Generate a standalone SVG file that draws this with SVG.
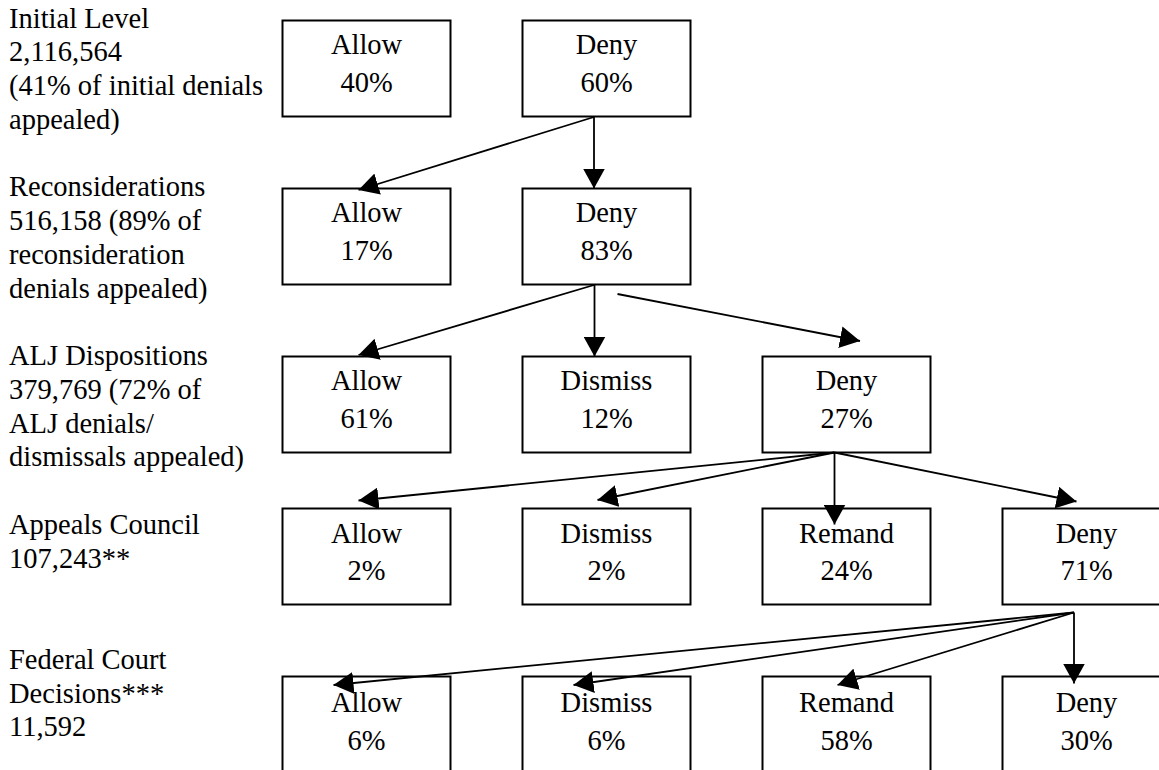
<svg xmlns="http://www.w3.org/2000/svg" width="1159" height="770" viewBox="0 0 1159 770">
<style>
  .box { fill: #fff; stroke: #000; stroke-width: 2; }
  .bt { font-family: "Liberation Serif", "Times New Roman", serif; font-size: 28.5px; fill: #000; text-anchor: middle; }
  .lbl { font-family: "Liberation Serif", "Times New Roman", serif; font-size: 28.5px; fill: #000; }
  .con line { stroke: #000; stroke-width: 1.8; marker-end: url(#ah); }
</style>
<defs>
  <marker id="ah" viewBox="0 0 20 22" refX="20" refY="11" markerWidth="20" markerHeight="22" orient="auto" markerUnits="userSpaceOnUse">
    <path d="M0,0 L20,11 L0,22 z" fill="#000"/>
  </marker>
</defs>
<rect width="1159" height="770" fill="#fff"/>

<g id="labels">
  <text class="lbl" x="9" y="27.5">Initial Level</text>
  <text class="lbl" x="9" y="61.25">2,116,564</text>
  <text class="lbl" x="9" y="95">(41% of initial denials</text>
  <text class="lbl" x="9" y="128.75">appealed)</text>
  <text class="lbl" x="9" y="196.25">Reconsiderations</text>
  <text class="lbl" x="9" y="230">516,158 (89% of</text>
  <text class="lbl" x="9" y="263.75">reconsideration</text>
  <text class="lbl" x="9" y="297.5">denials appealed)</text>
  <text class="lbl" x="9" y="365">ALJ Dispositions</text>
  <text class="lbl" x="9" y="398.75">379,769 (72% of</text>
  <text class="lbl" x="9" y="432.5">ALJ denials/</text>
  <text class="lbl" x="9" y="466.25">dismissals appealed)</text>
  <text class="lbl" x="9" y="533.75">Appeals Council</text>
  <text class="lbl" x="9" y="567.5">107,243**</text>
  <text class="lbl" x="9" y="668.75">Federal Court</text>
  <text class="lbl" x="9" y="702.5">Decisions***</text>
  <text class="lbl" x="9" y="736.25">11,592</text>
</g>

<g id="r1-allow"><rect class="box" x="282.5" y="20.5" width="168" height="96"/><text class="bt" x="366.5" y="54">Allow</text><text class="bt" x="366.5" y="91.5">40%</text></g>
<g id="r1-deny"><rect class="box" x="522.5" y="20.5" width="168" height="96"/><text class="bt" x="606.5" y="54">Deny</text><text class="bt" x="606.5" y="91.5">60%</text></g>

<g id="r2-allow"><rect class="box" x="282.5" y="188.5" width="168" height="96"/><text class="bt" x="366.5" y="222">Allow</text><text class="bt" x="366.5" y="259.5">17%</text></g>
<g id="r2-deny"><rect class="box" x="522.5" y="188.5" width="168" height="96"/><text class="bt" x="606.5" y="222">Deny</text><text class="bt" x="606.5" y="259.5">83%</text></g>

<g id="r3-allow"><rect class="box" x="282.5" y="356.5" width="168" height="96"/><text class="bt" x="366.5" y="390">Allow</text><text class="bt" x="366.5" y="427.5">61%</text></g>
<g id="r3-dismiss"><rect class="box" x="522.5" y="356.5" width="168" height="96"/><text class="bt" x="606.5" y="390">Dismiss</text><text class="bt" x="606.5" y="427.5">12%</text></g>
<g id="r3-deny"><rect class="box" x="762.5" y="356.5" width="168" height="96"/><text class="bt" x="846.5" y="390">Deny</text><text class="bt" x="846.5" y="427.5">27%</text></g>

<g id="r4-allow"><rect class="box" x="282.5" y="508.5" width="168" height="96"/><text class="bt" x="366.5" y="543">Allow</text><text class="bt" x="366.5" y="579.5">2%</text></g>
<g id="r4-dismiss"><rect class="box" x="522.5" y="508.5" width="168" height="96"/><text class="bt" x="606.5" y="543">Dismiss</text><text class="bt" x="606.5" y="579.5">2%</text></g>
<g id="r4-remand"><rect class="box" x="762.5" y="508.5" width="168" height="96"/><text class="bt" x="846.5" y="543">Remand</text><text class="bt" x="846.5" y="579.5">24%</text></g>
<g id="r4-deny"><rect class="box" x="1002.5" y="508.5" width="168" height="96"/><text class="bt" x="1086.5" y="543">Deny</text><text class="bt" x="1086.5" y="579.5">71%</text></g>

<g id="r5-allow"><rect class="box" x="282.5" y="676.5" width="168" height="100"/><text class="bt" x="366.5" y="711.5">Allow</text><text class="bt" x="366.5" y="749.5">6%</text></g>
<g id="r5-dismiss"><rect class="box" x="522.5" y="676.5" width="168" height="100"/><text class="bt" x="606.5" y="711.5">Dismiss</text><text class="bt" x="606.5" y="749.5">6%</text></g>
<g id="r5-remand"><rect class="box" x="762.5" y="676.5" width="168" height="100"/><text class="bt" x="846.5" y="711.5">Remand</text><text class="bt" x="846.5" y="749.5">58%</text></g>
<g id="r5-deny"><rect class="box" x="1002.5" y="676.5" width="168" height="100"/><text class="bt" x="1086.5" y="711.5">Deny</text><text class="bt" x="1086.5" y="749.5">30%</text></g>

<g id="connectors" class="con">
  <line x1="594" y1="117" x2="358.5" y2="190"/>
  <line x1="594" y1="117" x2="594" y2="188.5"/>
  <line x1="594" y1="285" x2="358.5" y2="355"/>
  <line x1="594.5" y1="285" x2="594.5" y2="356.5"/>
  <line x1="617.5" y1="294" x2="860" y2="341"/>
  <line x1="834.5" y1="452.5" x2="358.5" y2="500.5"/>
  <line x1="834.5" y1="452.5" x2="597.5" y2="500"/>
  <line x1="834.5" y1="452.5" x2="834.5" y2="524.5"/>
  <line x1="834.5" y1="452.5" x2="1076.5" y2="501.5"/>
  <line x1="1074" y1="612.5" x2="333.5" y2="685"/>
  <line x1="1074" y1="612.5" x2="573.5" y2="685"/>
  <line x1="1074" y1="612.5" x2="837.5" y2="685"/>
  <line x1="1074" y1="612.5" x2="1074" y2="683.5"/>
</g>
</svg>
